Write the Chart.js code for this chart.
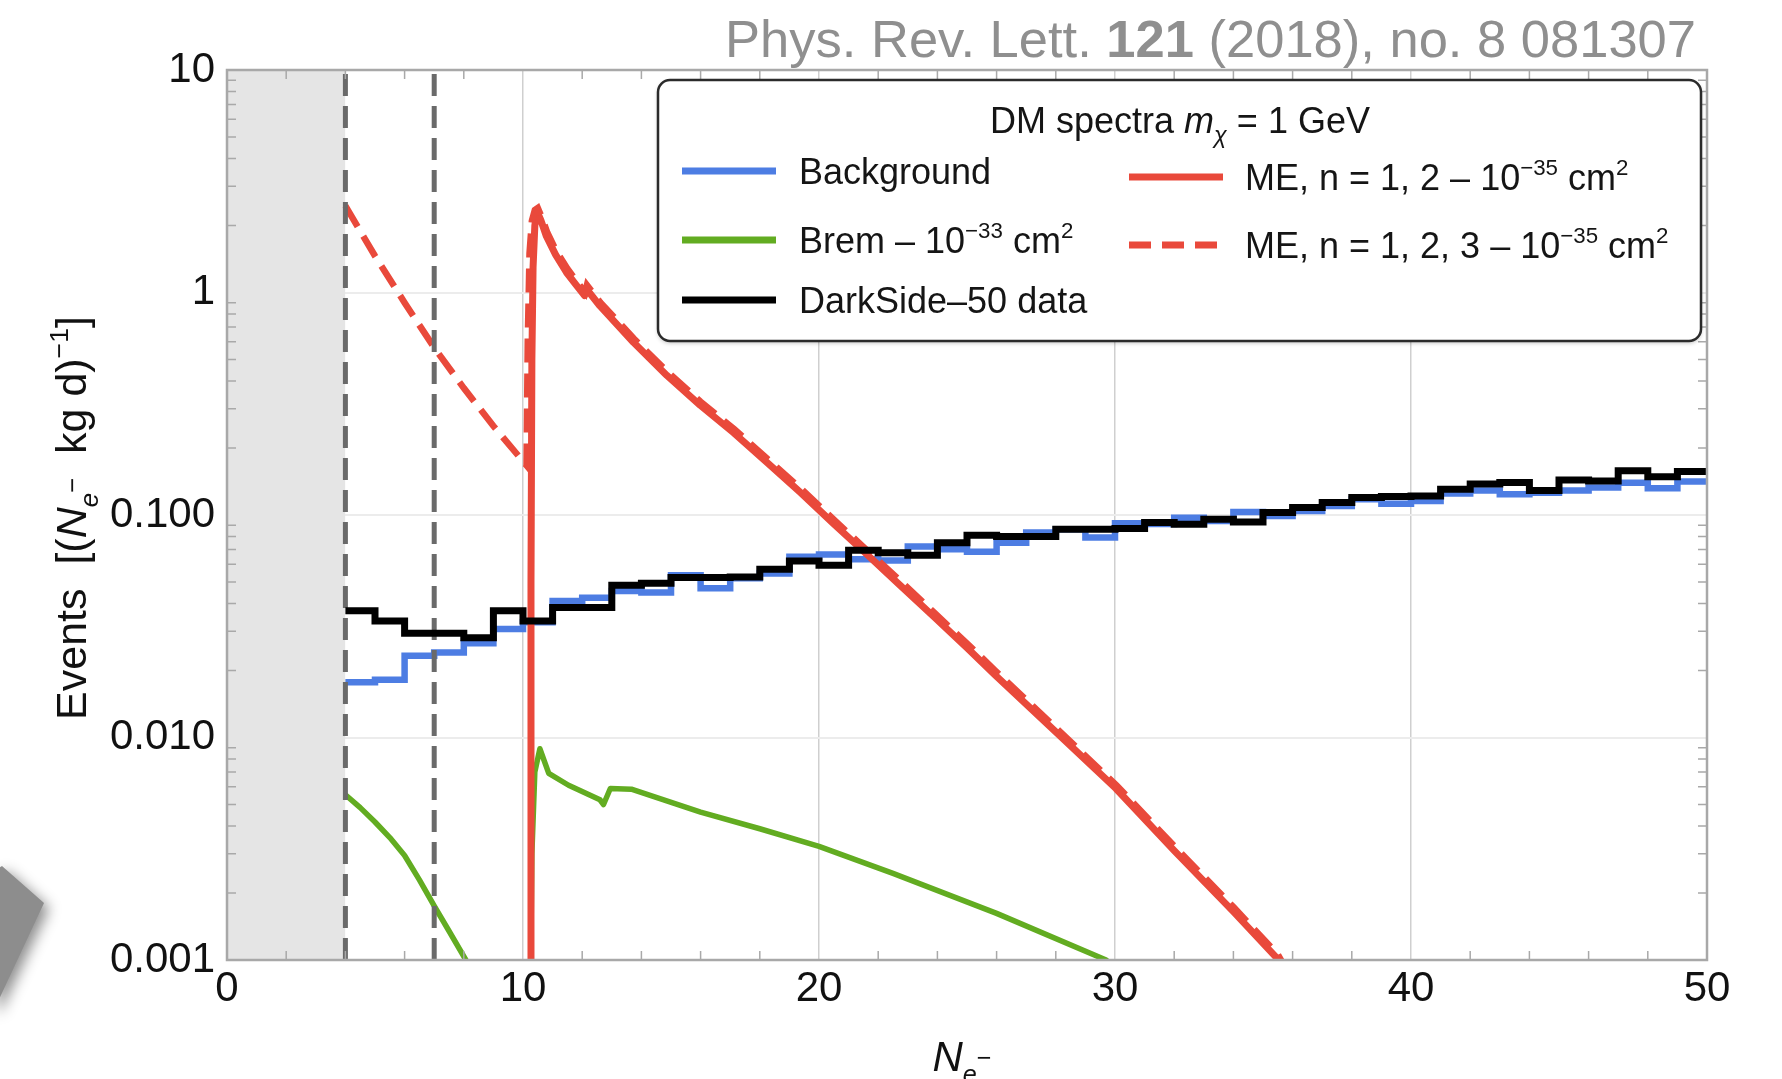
<!DOCTYPE html>
<html>
<head>
<meta charset="utf-8">
<script src="https://cdn.jsdelivr.net/npm/chart.js@4.4.1/dist/chart.umd.min.js"></script>
<style>
  html, body { margin: 0; padding: 0; background: #fff; }
  #wrap { width: 1782px; height: 1079px; position: relative; }
</style>
</head>
<body>
<div id="wrap"><canvas id="spectrum"></canvas></div>
<script>
const FONT = '"Liberation Sans", Arial, Helvetica, sans-serif';

// histogram bins: lower edges, one electron wide, last bin closes at 50
const binLow = [4, 5, 6, 7, 8, 9, 10, 11, 12, 13, 14, 15, 16, 17, 18, 19, 20, 21, 22, 23,
  24, 25, 26, 27, 28, 29, 30, 31, 32, 33, 34, 35, 36, 37, 38, 39, 40, 41, 42, 43, 44, 45, 46, 47, 48, 49];
const binTop = 50;

const darkSide = [0.0371, 0.0334, 0.0294, 0.0294, 0.0281, 0.0371, 0.0334, 0.0384, 0.0384, 0.0483,
  0.0493, 0.0524, 0.0524, 0.0527, 0.057, 0.0621, 0.0594, 0.0694, 0.0677, 0.0659,
  0.0751, 0.0811, 0.080, 0.080, 0.0863, 0.0863, 0.0869, 0.0925, 0.0908, 0.0957,
  0.0931, 0.1026, 0.108, 0.1137, 0.1198, 0.121, 0.1217, 0.1304, 0.138, 0.140,
  0.129, 0.1436, 0.1422, 0.158, 0.1487, 0.1567];

const background = [0.0177, 0.0182, 0.0233, 0.0241, 0.0265, 0.0307, 0.033, 0.0411, 0.0425, 0.0456,
  0.0448, 0.0536, 0.0468, 0.052, 0.0546, 0.065, 0.0665, 0.0632, 0.0625, 0.0721,
  0.0702, 0.0683, 0.0751, 0.0834, 0.0863, 0.0793, 0.0918, 0.091, 0.0973, 0.094,
  0.1031, 0.099, 0.1043, 0.1097, 0.1177, 0.1124, 0.1155, 0.1249, 0.129, 0.1239,
  0.126, 0.129, 0.1328, 0.1397, 0.1318, 0.1413];

// migdal-effect spectra, n = 1,2 shells
const meX = [10.24, 10.27, 10.3, 10.34, 10.4, 10.47, 10.6, 10.79, 11.1, 11.47, 11.8,
  12.08, 12.14, 12.6, 13.73, 14.86, 15.99, 17.12, 18.25, 19.38, 20.5,
  21.64, 22.77, 23.9, 25.03, 25.93, 28.0, 30.03, 32.0, 34.0, 35.47, 35.8];
const meY = [0.0008, 0.05, 0.5, 1.3, 2.0, 2.32, 2.12, 1.79, 1.48, 1.23, 1.08,
  0.97, 1.04, 0.87, 0.597, 0.424, 0.311, 0.234, 0.172, 0.126, 0.0912,
  0.0661, 0.0479, 0.0347, 0.0251, 0.0192, 0.0106, 0.0059, 0.0031, 0.00165, 0.00102, 0.0009];

// n = 1,2,3 shells
const me3X = [4, 5, 6, 7, 8, 9, 10.12, 10.16, 10.22, 10.3, 10.4, 10.5, 10.62, 10.82, 11.12, 11.5, 11.82,
  12.1, 12.16, 12.62, 13.75, 14.88, 16.0, 17.14, 18.27, 19.4, 20.52,
  21.66, 22.8, 23.92, 25.05, 25.95, 28.02, 30.05, 32.02, 34.02, 35.5, 35.8];
const me3Y = [2.45, 1.46, 0.90, 0.565, 0.372, 0.251, 0.167, 0.6, 1.5, 2.1, 2.35, 2.4, 2.2, 1.86, 1.54, 1.28, 1.12,
  1.0, 1.08, 0.9, 0.62, 0.44, 0.323, 0.243, 0.178, 0.131, 0.0948,
  0.0687, 0.0498, 0.0361, 0.0261, 0.02, 0.011, 0.0061, 0.00323, 0.00172, 0.00106, 0.0009];

// bremsstrahlung, two branches (null breaks the line)
const bremX = [4, 4.5, 5, 5.5, 6, 6.5, 7, 7.5, 8.07, 8.2, 9, 10.26, 10.3, 10.4, 10.57, 10.87, 11.54, 12.6, 12.72, 12.95,
  13.66, 16, 18, 20, 22.5, 26, 29.7, 29.9];
const bremY = [0.00553, 0.00484, 0.00417, 0.00355, 0.00295, 0.00229, 0.00175, 0.00135, 0.001, 0.0009, null,
  0.0009, 0.003, 0.007, 0.0089, 0.0069, 0.0061, 0.00525, 0.005, 0.0059,
  0.00586, 0.00462, 0.00389, 0.00324, 0.00245, 0.00162, 0.001, 0.00095];

const threshold = [0, 4];      // excluded region
const cutLines = [4, 7];       // analysis thresholds

const xMin = 0, xMax = 50;
const xTicks = [0, 10, 20, 30, 40, 50];
const yMin = 0.001, yMax = 10;
const yTicks = [0.001, 0.01, 0.1, 1, 10];
const yTickLabels = ['0.001', '0.010', '0.100', '1', '10'];

const BLUE = '#4d7de3', GREEN = '#62ac21', RED = '#e9493b', GREY = '#6a6a6a';

function histPoints(vals) {
  const pts = binLow.map((x, i) => ({ x: x, y: vals[i] }));
  pts.push({ x: binTop, y: vals[vals.length - 1] });
  return pts;
}
function curve(xs, ys) {
  return xs.map((x, i) => ({ x: x, y: ys[i] }));
}
function vline(x) {
  return [{ x: x, y: yMin }, { x: x, y: yMax }];
}

// draws a run of text pieces: s = size factor, r = rise (fraction of size), i = italic, b = bold
function richText(ctx, parts, x, y, size, align) {
  const fontOf = p => `${p.i ? 'italic ' : ''}${p.b ? 'bold ' : ''}${(p.s || 1) * size}px ${FONT}`;
  let w = 0;
  parts.forEach(p => { ctx.font = fontOf(p); p.w = ctx.measureText(p.t).width; w += p.w; });
  let cx = align === 'center' ? x - w / 2 : align === 'right' ? x - w : x;
  ctx.textAlign = 'left';
  ctx.textBaseline = 'alphabetic';
  parts.forEach(p => {
    ctx.font = fontOf(p);
    ctx.fillText(p.t, cx, y - (p.r || 0) * size);
    cx += p.w;
  });
}
const sup = t => ({ t: t, s: 0.62, r: 0.42 });

const decorations = {
  id: 'decorations',
  afterDatasetsDraw(chart) {
    const { ctx, chartArea: a, scales } = chart;
    const xs = scales.x, ys = scales.y;
    ctx.save();

    // minor ticks, inward on all four sides
    ctx.strokeStyle = '#a9a9a9';
    ctx.lineWidth = 1.5;
    ctx.beginPath();
    for (let v = xMin; v <= xMax; v += 2) {
      if (v % 10 === 0) continue;
      const px = xs.getPixelForValue(v);
      ctx.moveTo(px, a.bottom); ctx.lineTo(px, a.bottom - 9);
      ctx.moveTo(px, a.top); ctx.lineTo(px, a.top + 9);
    }
    for (let d = -3; d < 1; d++) {
      for (let m = 2; m <= 9; m++) {
        const py = ys.getPixelForValue(m * Math.pow(10, d));
        ctx.moveTo(a.left, py); ctx.lineTo(a.left + 9, py);
        ctx.moveTo(a.right, py); ctx.lineTo(a.right - 9, py);
      }
    }
    ctx.stroke();

    // frame
    ctx.strokeStyle = '#a8a8a8';
    ctx.lineWidth = 2.5;
    ctx.strokeRect(a.left, a.top, a.right - a.left, a.bottom - a.top);

    // legend box
    const L = 658, T = 80, R = 1701, B = 341;
    ctx.shadowColor = 'rgba(0,0,0,0.25)';
    ctx.shadowBlur = 4;
    ctx.shadowOffsetY = 2;
    ctx.beginPath();
    ctx.roundRect(L, T, R - L, B - T, 12);
    ctx.fillStyle = '#fff';
    ctx.fill();
    ctx.shadowColor = 'transparent';
    ctx.strokeStyle = '#2b2b2b';
    ctx.lineWidth = 2.5;
    ctx.stroke();

    ctx.fillStyle = '#151515';
    richText(ctx, [{ t: 'DM spectra ' }, { t: 'm', i: 1 }, { t: 'χ', i: 1, s: 0.65, r: -0.28 }, { t: ' = 1 GeV' }],
      1180, 133, 36, 'center');

    const rows = [
      { x0: 682, x1: 776, y: 171, color: BLUE, tx: 799, parts: [{ t: 'Background' }] },
      { x0: 682, x1: 776, y: 240, color: GREEN, tx: 799, parts: [{ t: 'Brem – 10' }, sup('−33'), { t: ' cm' }, sup('2')] },
      { x0: 682, x1: 776, y: 300, color: '#000', tx: 799, parts: [{ t: 'DarkSide–50 data' }] },
      { x0: 1129, x1: 1223, y: 177, color: RED, tx: 1245, parts: [{ t: 'ME, n = 1, 2 – 10' }, sup('−35'), { t: ' cm' }, sup('2')] },
      { x0: 1129, x1: 1217, y: 245, color: RED, dash: [22, 11], tx: 1245, parts: [{ t: 'ME, n = 1, 2, 3 – 10' }, sup('−35'), { t: ' cm' }, sup('2')] }
    ];
    rows.forEach(r => {
      ctx.beginPath();
      ctx.setLineDash(r.dash || []);
      ctx.strokeStyle = r.color;
      ctx.lineWidth = 7;
      ctx.moveTo(r.x0, r.y);
      ctx.lineTo(r.x1, r.y);
      ctx.stroke();
      ctx.setLineDash([]);
      ctx.fillStyle = '#151515';
      richText(ctx, r.parts, r.tx, r.y + 13, 36, 'left');
    });
    ctx.restore();
  },
  afterDraw(chart) {
    const { ctx } = chart;
    ctx.save();
    ctx.fillStyle = '#111';
    // axis titles
    richText(ctx, [{ t: 'N', i: 1 }, { t: 'e', i: 1, s: 0.6, r: -0.28 }, { t: '−', s: 0.6, r: 0.12 }], 962, 1071, 42, 'center');
    ctx.save();
    ctx.translate(86, 518);
    ctx.rotate(-Math.PI / 2);
    richText(ctx, [{ t: 'Events  [(' }, { t: 'N', i: 1 }, { t: 'e', i: 1, s: 0.6, r: -0.28 }, { t: '−', s: 0.6, r: 0.12 },
      { t: '  kg d)' }, sup('−1'), { t: ']' }], 0, 0, 43, 'center');
    ctx.restore();

    // journal reference
    ctx.fillStyle = '#8f8f8f';
    richText(ctx, [{ t: 'Phys. Rev. Lett. ' }, { t: '121', b: 1 }, { t: ' (2018), no. 8 081307' }], 1696, 57, 52.5, 'right');

    // grey tab at the lower left
    ctx.shadowColor = 'rgba(0,0,0,0.45)';
    ctx.shadowBlur = 14;
    ctx.shadowOffsetX = 5;
    ctx.shadowOffsetY = 5;
    ctx.fillStyle = '#8d8d8d';
    ctx.beginPath();
    ctx.moveTo(-20, 880);
    ctx.lineTo(2, 866);
    ctx.lineTo(44, 903);
    ctx.lineTo(-6, 1010);
    ctx.closePath();
    ctx.fill();
    ctx.restore();
  }
};

const lineBase = { pointRadius: 0, tension: 0, fill: false, borderCapStyle: 'butt' };

new Chart(document.getElementById('spectrum'), {
  type: 'line',
  data: {
    datasets: [
      Object.assign({}, lineBase, {
        label: 'DarkSide-50 data', data: histPoints(darkSide), stepped: true,
        borderColor: '#000', borderWidth: 7, borderJoinStyle: 'miter', order: 1
      }),
      Object.assign({}, lineBase, {
        label: 'cut', data: vline(cutLines[0]), borderColor: GREY, borderWidth: 5, borderDash: [22, 10], order: 2
      }),
      Object.assign({}, lineBase, {
        label: 'cut', data: vline(cutLines[1]), borderColor: GREY, borderWidth: 5, borderDash: [22, 10], order: 2
      }),
      Object.assign({}, lineBase, {
        label: 'ME n=1,2,3', data: curve(me3X, me3Y), borderColor: RED, borderWidth: 6.5, borderDash: [24, 11], order: 3
      }),
      Object.assign({}, lineBase, {
        label: 'ME n=1,2', data: curve(meX, meY), borderColor: RED, borderWidth: 7, borderJoinStyle: 'round', order: 4
      }),
      Object.assign({}, lineBase, {
        label: 'Brem', data: curve(bremX, bremY), borderColor: GREEN, borderWidth: 5.5, borderJoinStyle: 'round', spanGaps: false, order: 5
      }),
      Object.assign({}, lineBase, {
        label: 'Background', data: histPoints(background), stepped: true,
        borderColor: BLUE, borderWidth: 6.5, borderJoinStyle: 'miter', order: 6
      }),
      Object.assign({}, lineBase, {
        label: 'threshold', data: [{ x: threshold[0], y: yMax }, { x: threshold[1], y: yMax }],
        borderWidth: 0, fill: 'start', backgroundColor: '#e5e5e5', order: 7
      })
    ]
  },
  options: {
    responsive: true,
    maintainAspectRatio: false,
    devicePixelRatio: 1,
    animation: false,
    layout: { padding: { top: 70, right: 75, left: 0, bottom: 0 } },
    plugins: { legend: { display: false }, tooltip: { enabled: false } },
    scales: {
      x: {
        type: 'linear', min: xMin, max: xMax,
        afterBuildTicks: s => { s.ticks = xTicks.map(v => ({ value: v })); },
        afterFit: s => { s.height = 119; },
        ticks: { font: { family: FONT, size: 42 }, color: '#111', padding: 4, maxRotation: 0, callback: v => String(v) },
        grid: {
          drawTicks: false, lineWidth: 1.5,
          color: c => (c.tick && (c.tick.value === xMin || c.tick.value === xMax)) ? 'transparent' : '#cfcfcf'
        },
        border: { display: false }
      },
      y: {
        type: 'logarithmic', min: yMin, max: yMax,
        afterBuildTicks: s => { s.ticks = yTicks.map(v => ({ value: v })); },
        afterFit: s => { s.width = 227; },
        ticks: {
          font: { family: FONT, size: 42 }, color: '#111', padding: 12,
          callback: v => { const i = yTicks.findIndex(t => Math.abs(t - v) < t * 1e-6); return i >= 0 ? yTickLabels[i] : ''; }
        },
        grid: {
          drawTicks: false, lineWidth: 2,
          color: c => (c.tick && (c.tick.value === yMin || c.tick.value === yMax)) ? 'transparent' : '#ececec'
        },
        border: { display: false }
      }
    }
  },
  plugins: [decorations]
});
</script>
</body>
</html>
